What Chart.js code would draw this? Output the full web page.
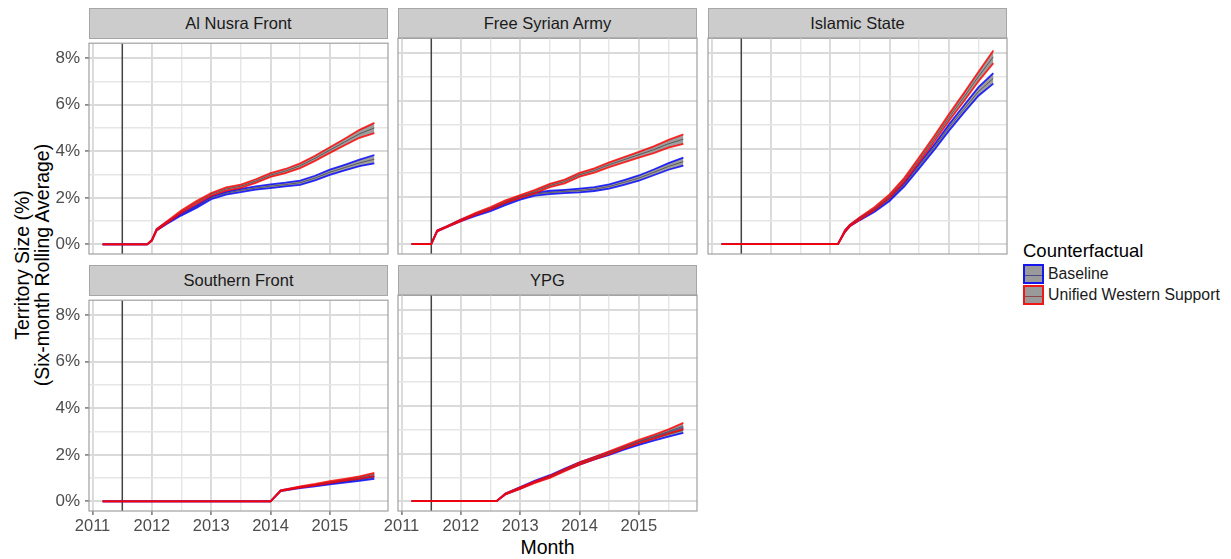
<!DOCTYPE html>
<html>
<head>
<meta charset="utf-8">
<script src="https://cdn.jsdelivr.net/npm/chart.js@4.4.1/dist/chart.umd.min.js"></script>
<style>
  html,body{margin:0;padding:0;background:#fff;}
  body{width:1231px;height:559px;overflow:hidden;position:relative;font-family:"Liberation Sans",Arial,Helvetica,sans-serif;}
  canvas{position:absolute;}
  .strip{position:absolute;background:#cccccc;border:1px solid #a6a6a6;box-sizing:border-box;color:#1a1a1a;font-size:16.5px;display:flex;align-items:center;justify-content:center;}
  .ytitle{position:absolute;left:32px;top:265px;transform:translate(-50%,-50%) rotate(-90deg);font-size:19.5px;line-height:20px;text-align:center;white-space:nowrap;color:#000;}
  .xtitle{position:absolute;left:447px;width:201px;top:536px;text-align:center;font-size:19.5px;line-height:22px;color:#000;}
  .legtitle{position:absolute;left:1023px;top:241px;font-size:18.5px;line-height:20px;color:#000;}
  .key{position:absolute;left:1023px;width:21px;height:20px;box-sizing:border-box;background:#9a9a9a;}
  .key .mid{position:absolute;left:0;right:0;top:8.5px;height:1.3px;}
  .keylab{position:absolute;left:1048px;font-size:15.8px;line-height:20px;color:#1a1a1a;white-space:nowrap;}
</style>
</head>
<body>
<div class="ytitle">Territory Size (%)<br>(Six-month Rolling Average)</div>
<div class="xtitle">Month</div>
<div class="legtitle">Counterfactual</div>
<div class="key" style="top:264px;border:2px solid rgba(0,0,255,0.85);"><div class="mid" style="background:#4a4a8a;"></div></div>
<div class="keylab" style="top:264px;">Baseline</div>
<div class="key" style="top:285px;border:2px solid rgba(255,0,0,0.85);"><div class="mid" style="background:#8a4a4a;"></div></div>
<div class="keylab" style="top:285px;">Unified Western Support</div>
<script>
// ---------------- DATA (decimal years, territory % ) ----------------
const eventLine = 2011.5;
const xTickVals = [2011, 2011.5, 2012, 2012.5, 2013, 2013.5, 2014, 2014.5, 2015, 2015.5];
const yTickVals = [0, 1, 2, 3, 4, 5, 6, 7, 8];

// Al Nusra Front
const anMonths   = [2011.17, 2011.92, 2012.0, 2012.08, 2012.25, 2012.5, 2012.75, 2013.0, 2013.25, 2013.5, 2013.75, 2014.0, 2014.25, 2014.5, 2014.75, 2015.0, 2015.25, 2015.5, 2015.75];
const anBaseline = [0, 0, 0.18, 0.63, 0.92, 1.30, 1.62, 2.00, 2.20, 2.32, 2.42, 2.50, 2.57, 2.65, 2.85, 3.10, 3.30, 3.50, 3.66];
const anBaseSd   = [0, 0, 0.02, 0.03, 0.04, 0.05, 0.05, 0.06, 0.06, 0.07, 0.07, 0.08, 0.08, 0.09, 0.10, 0.11, 0.12, 0.14, 0.18];
const anUnified  = [0, 0, 0.18, 0.63, 0.95, 1.42, 1.80, 2.15, 2.38, 2.50, 2.72, 2.98, 3.15, 3.38, 3.70, 4.05, 4.40, 4.75, 5.00];
const anUniSd    = [0, 0, 0.02, 0.03, 0.04, 0.05, 0.06, 0.06, 0.07, 0.07, 0.08, 0.08, 0.09, 0.10, 0.11, 0.12, 0.14, 0.17, 0.22];

// Free Syrian Army
const fsaMonths   = [2011.17, 2011.5, 2011.6, 2011.77, 2012.0, 2012.25, 2012.5, 2012.75, 2013.0, 2013.25, 2013.5, 2013.75, 2014.0, 2014.25, 2014.5, 2014.75, 2015.0, 2015.25, 2015.5, 2015.75];
const fsaBaseline = [0, 0, 0.56, 0.74, 1.00, 1.23, 1.44, 1.69, 1.93, 2.10, 2.17, 2.21, 2.25, 2.31, 2.42, 2.59, 2.77, 3.01, 3.26, 3.46];
const fsaBaseSd   = [0, 0, 0.02, 0.02, 0.03, 0.04, 0.05, 0.05, 0.06, 0.06, 0.07, 0.07, 0.08, 0.08, 0.09, 0.10, 0.11, 0.12, 0.14, 0.17];
const fsaUnified  = [0, 0, 0.56, 0.74, 1.00, 1.28, 1.51, 1.79, 2.00, 2.21, 2.46, 2.63, 2.91, 3.09, 3.33, 3.54, 3.75, 3.96, 4.21, 4.40];
const fsaUniSd    = [0, 0, 0.02, 0.02, 0.03, 0.04, 0.05, 0.05, 0.06, 0.07, 0.07, 0.08, 0.08, 0.09, 0.10, 0.11, 0.12, 0.14, 0.16, 0.20];

// Islamic State
const isMonths   = [2011.17, 2013.13, 2013.25, 2013.33, 2013.5, 2013.75, 2014.0, 2014.25, 2014.5, 2014.75, 2015.0, 2015.25, 2015.5, 2015.75];
const isBaseline = [0, 0, 0.55, 0.78, 1.06, 1.42, 1.88, 2.50, 3.28, 4.05, 4.88, 5.65, 6.40, 6.95];
const isBaseSd   = [0, 0, 0.03, 0.03, 0.05, 0.06, 0.07, 0.08, 0.10, 0.11, 0.13, 0.15, 0.18, 0.22];
const isUnified  = [0, 0, 0.55, 0.78, 1.08, 1.50, 2.02, 2.70, 3.54, 4.40, 5.30, 6.15, 7.03, 7.85];
const isUniSd    = [0, 0, 0.03, 0.03, 0.05, 0.06, 0.07, 0.08, 0.10, 0.12, 0.14, 0.17, 0.20, 0.27];

// Southern Front
const sfMonths   = [2011.17, 2014.0, 2014.17, 2014.5, 2014.75, 2015.0, 2015.25, 2015.5, 2015.75];
const sfBaseline = [0, 0, 0.46, 0.60, 0.68, 0.77, 0.85, 0.93, 1.03];
const sfBaseSd   = [0, 0, 0.02, 0.03, 0.03, 0.04, 0.04, 0.05, 0.06];
const sfUnified  = [0, 0, 0.46, 0.62, 0.72, 0.83, 0.93, 1.03, 1.16];
const sfUniSd    = [0, 0, 0.02, 0.03, 0.03, 0.04, 0.04, 0.05, 0.07];

// YPG
const ypgMonths   = [2011.17, 2012.6, 2012.75, 2013.0, 2013.25, 2013.5, 2013.75, 2014.0, 2014.25, 2014.5, 2014.75, 2015.0, 2015.25, 2015.5, 2015.75];
const ypgBaseline = [0, 0, 0.30, 0.56, 0.83, 1.05, 1.33, 1.58, 1.80, 2.00, 2.22, 2.43, 2.62, 2.80, 2.97];
const ypgBaseSd   = [0, 0, 0.02, 0.03, 0.03, 0.04, 0.04, 0.05, 0.05, 0.06, 0.06, 0.07, 0.08, 0.09, 0.11];
const ypgUnified  = [0, 0, 0.30, 0.55, 0.80, 1.02, 1.30, 1.58, 1.80, 2.03, 2.27, 2.50, 2.70, 2.92, 3.15];
const ypgUniSd    = [0, 0, 0.02, 0.03, 0.03, 0.04, 0.04, 0.05, 0.05, 0.06, 0.06, 0.07, 0.08, 0.09, 0.13];

// ---------------- LAYOUT / STYLE ----------------
const FONT = '"Liberation Sans", Arial, Helvetica, sans-serif';
const X_MIN = 2010.94, X_MAX = 2015.98, Y_MIN = -0.41, Y_MAX = 8.64;
const PW = 299, PH = 216, ML = 55, MT = 10, MR = 10, MB = 40;
const BLUE_EDGE = 'rgba(0,0,255,0.82)', RED_EDGE = 'rgba(255,0,0,0.82)';
const MID_LINE = 'rgba(70,70,70,0.85)';
const RIBBON = 'rgba(120,120,120,0.72)';

const panels = [
  {title:'Al Nusra Front',   x:anMonths,  b:anBaseline,  bs:anBaseSd,  u:anUnified,  us:anUniSd,  left:89,  top:38,  showY:true,  showX:false},
  {title:'Free Syrian Army', x:fsaMonths, b:fsaBaseline, bs:fsaBaseSd, u:fsaUnified, us:fsaUniSd, left:398, top:38,  showY:false, showX:false},
  {title:'Islamic State',    x:isMonths,  b:isBaseline,  bs:isBaseSd,  u:isUnified,  us:isUniSd,  left:708, top:38,  showY:false, showX:false},
  {title:'Southern Front',   x:sfMonths,  b:sfBaseline,  bs:sfBaseSd,  u:sfUnified,  us:sfUniSd,  left:89,  top:295, showY:true,  showX:true},
  {title:'YPG',              x:ypgMonths, b:ypgBaseline, bs:ypgBaseSd, u:ypgUnified, us:ypgUniSd, left:398, top:295, showY:false, showX:true}
];

const borderPlugin = {
  id:'panelBorder',
  afterDraw(chart){
    const a = chart.chartArea, c = chart.ctx;
    c.save();
    c.strokeStyle = '#a0a0a0';
    c.lineWidth = 1.2;
    c.strokeRect(a.left, a.top, a.right - a.left, a.bottom - a.top);
    c.restore();
  }
};

function pts(xs, ys, sd, sign){
  return xs.map((x, i) => ({x: x, y: ys[i] + sign * (sd ? sd[i] : 0)}));
}

panels.forEach(p => {
  const strip = document.createElement('div');
  strip.className = 'strip';
  strip.style.left = p.left + 'px';
  strip.style.width = PW + 'px';
  strip.style.top = (p.top - 30) + 'px';
  strip.style.height = '31px';
  strip.textContent = p.title;
  document.body.appendChild(strip);

  const cv = document.createElement('canvas');
  cv.width = PW + ML + MR;
  cv.height = PH + MT + MB;
  cv.style.left = (p.left - ML) + 'px';
  cv.style.top = (p.top - MT) + 'px';
  cv.style.width = cv.width + 'px';
  cv.style.height = cv.height + 'px';
  document.body.appendChild(cv);

  const line = (data, color, w, order, fill, bg) => ({
    data, borderColor: color, borderWidth: w, pointRadius: 0, tension: 0,
    fill: fill || false, backgroundColor: bg || 'transparent', order
  });

  // per group: [0] lower edge, [1] upper (fill only), [2] centre, [3] upper edge
  const group = (ys, sd, edge, base) => [
    line(pts(p.x, ys, sd, -1), edge, 1.8, base + 2),
    line(pts(p.x, ys, sd, 1), 'rgba(0,0,0,0)', 0, base + 4, '-1', RIBBON),
    line(pts(p.x, ys, null, 0), MID_LINE, 0.9, base + 3),
    line(pts(p.x, ys, sd, 1), edge, 1.8, base + 1)
  ];

  const datasets = [
    line([{x:eventLine, y:-5}, {x:eventLine, y:20}], '#1f1f1f', 1.2, 40),
    ...group(p.b, p.bs, BLUE_EDGE, 20),
    ...group(p.u, p.us, RED_EDGE, 10)
  ];

  new Chart(cv, {
    type: 'line',
    data: { datasets },
    plugins: [borderPlugin],
    options: {
      responsive: false,
      animation: false,
      layout: { padding: { top: MT, right: MR, left: 0, bottom: 0 } },
      plugins: { legend: { display: false }, tooltip: { enabled: false } },
      events: [],
      scales: {
        x: {
          type: 'linear', min: X_MIN, max: X_MAX,
          afterBuildTicks: s => { s.ticks = xTickVals.map(v => ({value: v})); },
          afterFit: s => { s.height = MB; },
          border: { display: false },
          grid: {
            color: c => Number.isInteger(c.tick.value) ? '#dadada' : '#e6e6e6',
            lineWidth: c => Number.isInteger(c.tick.value) ? 1.9 : 1.4,
            drawTicks: p.showX, tickLength: 4,
            tickColor: c => Number.isInteger(c.tick.value) ? '#333333' : 'rgba(0,0,0,0)',
            tickWidth: 1
          },
          ticks: {
            display: p.showX, autoSkip: false, maxRotation: 0, minRotation: 0, padding: 2,
            color: '#4d4d4d', font: { size: 16.5, family: FONT },
            callback: v => Number.isInteger(v) ? String(v) : ''
          }
        },
        y: {
          type: 'linear', min: Y_MIN, max: Y_MAX,
          afterBuildTicks: s => { s.ticks = yTickVals.map(v => ({value: v})); },
          afterFit: s => { s.width = ML; },
          border: { display: false },
          grid: {
            color: c => (c.tick.value % 2 === 0) ? '#dadada' : '#e6e6e6',
            lineWidth: c => (c.tick.value % 2 === 0) ? 1.9 : 1.4,
            drawTicks: p.showY, tickLength: 4,
            tickColor: c => (c.tick.value % 2 === 0) ? '#333333' : 'rgba(0,0,0,0)',
            tickWidth: 1
          },
          ticks: {
            display: p.showY, autoSkip: false, padding: 5,
            color: '#4d4d4d', font: { size: 17, family: FONT },
            callback: v => (v % 2 === 0) ? v + '%' : ''
          }
        }
      }
    }
  });
});
</script>
</body>
</html>
